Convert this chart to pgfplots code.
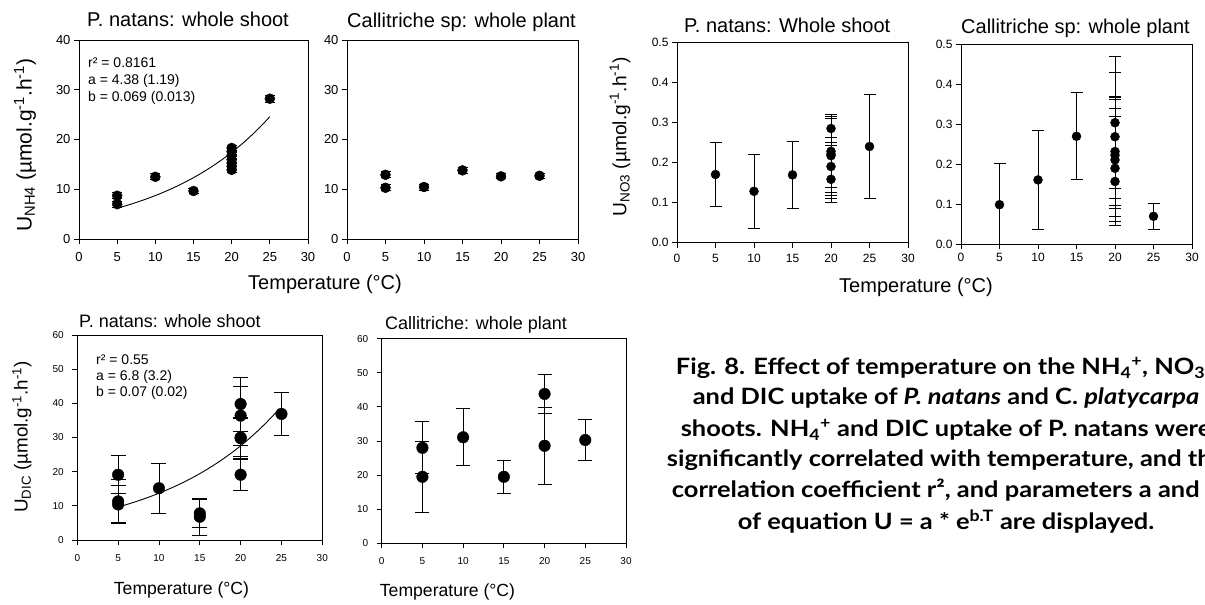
\documentclass[border=0pt]{standalone}
\usepackage{pgfplots}
\pgfplotsset{compat=1.18}
\usepackage{fontspec}
\setmainfont{Liberation Sans}
\newfontfamily\capfont[FakeStretch=1.13]{Lato}
\newcommand\fs[1]{\fontsize{#1}{#1}\selectfont}

\pgfplotsset{
  panel/.style={
    scale only axis, anchor=south west,
    xmin=0, xmax=30, xtick={0,5,10,15,20,25,30},
    xticklabels={0,5,10,15,20,25,30},
    tick align=outside, xtick pos=bottom, ytick pos=left,
    major tick length=5pt,
    axis line style={line width=0.9pt},
    every tick/.style={black, line width=0.9pt},
    /pgf/number format/assume math mode=true,
  },
  dots/.style 2 args={only marks, mark=*, mark size=#1,
    mark options={fill=black, draw=black},
    error bars/y dir=both, error bars/y explicit,
    error bars/error bar style={black, line width=0.9pt},
    error bars/error mark options={rotate=90, mark size=#2, line width=0.9pt, black}},
  fit/.style={black, line width=0.9pt, no marks, smooth},
}

\begin{document}
\begin{tikzpicture}
\path[use as bounding box] (0pt,0pt) rectangle (1205pt,-605pt);
\clip (0pt,0pt) rectangle (1205pt,-605pt);
\fill[white] (0pt,0pt) rectangle (1205pt,-605pt);

% ---------- Panel 1: NH4, P. natans ----------
\begin{axis}[panel, at={(79pt,-239pt)}, width=229pt, height=199pt,
  ymin=0, ymax=40, ytick={0,10,20,30,40}, yticklabels={0,10,20,30,40},
  tick label style={font=\fs{13}}, xticklabel style={yshift=-5pt}]
\addplot[dots={5pt}{5pt}] table[x=x,y=y,y error plus=ep,y error minus=em] {
x y ep em
5 8.7 0.6 0.6
5 7.0 0.6 0.6
10 12.5 0.6 0.6
15 9.65 0.5 0.5
20 18.3 0.6 0.6
20 17.6 0.6 0.6
20 16.8 0.6 0.6
20 16.0 0.6 0.6
20 15.3 0.6 0.6
20 14.6 0.6 0.6
20 13.9 0.6 0.6
25 28.2 0.7 0.7
};
\addplot[fit] coordinates {(5,6.185)(6,6.626)(7,7.100)(8,7.607)(9,8.150)(10,8.732)(11,9.356)(12,10.024)(13,10.741)(14,11.508)(15,12.330)(16,13.211)(17,14.155)(18,15.166)(19,16.249)(20,17.410)(21,18.654)(22,19.986)(23,21.414)(24,22.944)(25,24.583)};
\end{axis}

% ---------- Panel 2: NH4, Callitriche ----------
\begin{axis}[panel, at={(347pt,-239pt)}, width=231pt, height=199pt,
  ymin=0, ymax=40, ytick={0,10,20,30,40}, yticklabels={0,10,20,30,40},
  tick label style={font=\fs{13}}, xticklabel style={yshift=-5pt}]
\addplot[dots={5pt}{5pt}] table[x=x,y=y,y error plus=ep,y error minus=em] {
x y ep em
5 12.9 0.6 0.6
5 10.3 0.6 0.6
10 10.45 0.6 0.6
15 13.8 0.6 0.6
20 12.6 0.5 0.5
25 12.7 0.5 0.5
};
\end{axis}

% ---------- Panel 3: NO3, P. natans ----------
\begin{axis}[panel, at={(677pt,-242.5pt)}, width=231pt, height=200pt,
  ymin=0, ymax=0.5, ytick={0,0.1,0.2,0.3,0.4,0.5}, yticklabels={0.0,0.1,0.2,0.3,0.4,0.5},
  tick label style={font=\fs{12}}, xticklabel style={yshift=-3pt}]
\addplot[dots={4.5pt}{6pt}] table[x=x,y=y,y error plus=ep,y error minus=em] {
x y ep em
5 0.170 0.080 0.080
10 0.128 0.092 0.092
15 0.169 0.083 0.083
20 0.285 0.035 0.035
20 0.228 0.092 0.090
20 0.221 0.094 0.095
20 0.217 0.093 0.100
20 0.190 0.072 0.080
20 0.158 0.084 0.058
25 0.240 0.130 0.130
};
\end{axis}

% ---------- Panel 4: NO3, Callitriche ----------
\begin{axis}[panel, at={(961pt,-244.3pt)}, width=231pt, height=200pt,
  ymin=0, ymax=0.5, ytick={0,0.1,0.2,0.3,0.4,0.5}, yticklabels={0.0,0.1,0.2,0.3,0.4,0.5},
  tick label style={font=\fs{12}}]
\addplot[dots={4.5pt}{6pt}] table[x=x,y=y,y error plus=ep,y error minus=em] {
x y ep em
5 0.099 0.103 0.103
10 0.161 0.124 0.125
15 0.270 0.109 0.109
20 0.304 0.165 0.165
20 0.269 0.160 0.155
20 0.232 0.137 0.135
20 0.223 0.143 0.133
20 0.211 0.150 0.164
20 0.190 0.150 0.120
20 0.157 0.163 0.100
25 0.070 0.032 0.032
};
\end{axis}

% ---------- Panel 5: DIC, P. natans ----------
\begin{axis}[panel, at={(77.3pt,-540pt)}, width=245pt, height=205pt,
  ymin=0, ymax=60, ytick={0,10,20,30,40,50,60}, yticklabels={0,10,20,30,40,50,60},
  tick label style={font=\fs{10}}, xticklabel style={yshift=-6pt}, yticklabel style={xshift=-5pt}]
\addplot[dots={5.8pt}{7.5pt}] table[x=x,y=y,y error plus=ep,y error minus=em] {
x y ep em
5 19.1 5.6 5.6
5 11.3 6.3 6.3
5 10.4 5.6 5.6
10 15.15 7.2 7.3
15 7.8 4.0 4.0
15 6.8 5.4 5.4
20 39.8 7.9 7.9
20 36.4 8.6 8.6
20 30.0 5.5 5.5
20 29.8 6.0 6.0
20 19.1 4.6 4.6
25 36.9 6.3 6.2
};
\addplot[fit] coordinates {(5,9.650)(6,10.349)(7,11.100)(8,11.905)(9,12.768)(10,13.694)(11,14.686)(12,15.751)(13,16.894)(14,18.118)(15,19.432)(16,20.841)(17,22.352)(18,23.973)(19,25.711)(20,27.575)(21,29.575)(22,31.719)(23,34.019)(24,36.486)(24.5,37.785)};
\end{axis}

% ---------- Panel 6: DIC, Callitriche ----------
\begin{axis}[panel, at={(381.7pt,-543.3pt)}, width=244.3pt, height=204.6pt,
  ymin=0, ymax=60, ytick={0,10,20,30,40,50,60}, yticklabels={0,10,20,30,40,50,60},
  tick label style={font=\fs{10}}, xticklabel style={yshift=-6pt}, yticklabel style={xshift=-5pt}]
\addplot[dots={5.8pt}{7pt}] table[x=x,y=y,y error plus=ep,y error minus=em] {
x y ep em
5 28.0 7.6 7.6
5 19.5 10.4 10.5
10 31.1 8.4 8.4
15 19.5 4.8 4.8
20 43.8 5.7 5.7
20 28.6 11.2 11.2
25 30.3 6.0 6.0
};
\end{axis}

% ---------- titles ----------
\node[anchor=base west, inner sep=0, font=\fs{20}] at (87pt,-26.5pt) {P. natans: whole shoot};
\node[anchor=base west, inner sep=0, font=\fs{20}] at (347pt,-27.2pt) {Callitriche sp: whole plant};
\node[anchor=base west, inner sep=0, font=\fs{20}] at (684pt,-32.2pt) {P. natans: Whole shoot};
\node[anchor=base west, inner sep=0, font=\fs{20}] at (961pt,-33.2pt) {Callitriche sp: whole plant};
\node[anchor=base west, inner sep=0, font=\fs{18}] at (79pt,-327.4pt) {P. natans: whole shoot};
\node[anchor=base west, inner sep=0, font=\fs{18}] at (385pt,-329.4pt) {Callitriche: whole plant};

% ---------- x labels ----------
\node[anchor=base, inner sep=0, font=\fs{20}] at (325pt,-289pt) {Temperature (°C)};
\node[anchor=base, inner sep=0, font=\fs{20}] at (916pt,-292pt) {Temperature (°C)};
\node[anchor=base, inner sep=0, font=\fs{17.6}] at (181.5pt,-594.3pt) {Temperature (°C)};
\node[anchor=base, inner sep=0, font=\fs{17.6}] at (447.5pt,-596.3pt) {Temperature (°C)};

% ---------- y labels ----------
\node[rotate=90, inner sep=0, font=\fs{21}] at (25pt,-145pt) {U\textsubscript{NH4} (µmol.g\textsuperscript{-1}.h\textsuperscript{-1})};
\node[rotate=90, inner sep=0, font=\fs{19.2}] at (620pt,-137pt) {U\textsubscript{NO3} (µmol.g\textsuperscript{-1}.h\textsuperscript{-1})};
\node[rotate=90, inner sep=0, font=\fs{18.8}] at (22pt,-437pt) {U\textsubscript{DIC} (µmol.g\textsuperscript{-1}.h\textsuperscript{-1})};

% ---------- fit annotations ----------
\node[anchor=base west, inner sep=0, font=\fs{14}] at (88pt,-67pt) {r² = 0.8161};
\node[anchor=base west, inner sep=0, font=\fs{14}] at (88pt,-84pt) {a = 4.38 (1.19)};
\node[anchor=base west, inner sep=0, font=\fs{14}] at (88pt,-101pt) {b = 0.069 (0.013)};
\node[anchor=base west, inner sep=0, font=\fs{14}] at (96pt,-364pt) {r² = 0.55};
\node[anchor=base west, inner sep=0, font=\fs{14}] at (96pt,-380pt) {a = 6.8 (3.2)};
\node[anchor=base west, inner sep=0, font=\fs{14}] at (96pt,-396pt) {b = 0.07 (0.02)};

% ---------- caption ----------
\begin{scope}[every node/.style={anchor=base, inner sep=0, font=\capfont\bfseries\fs{22.5}}]
\node at (946pt,-374pt) {Fig. 8. Effect of temperature on the NH\textsubscript{4}\textsuperscript{+}, NO\textsubscript{3}\textsuperscript{−}};
\node at (946pt,-404pt) {and DIC uptake of \textit{P. natans} and C. \textit{platycarpa}};
\node at (946pt,-436pt) {shoots. NH\textsubscript{4}\textsuperscript{+} and DIC uptake of P. natans were};
\node at (946pt,-466pt) {significantly correlated with temperature, and the};
\node at (946pt,-497.5pt) {correlation coefficient r², and parameters a and b};
\node at (946pt,-529pt) {of equation U = a * e\textsuperscript{b.T} are displayed.};
\end{scope}
\end{tikzpicture}
\end{document}
